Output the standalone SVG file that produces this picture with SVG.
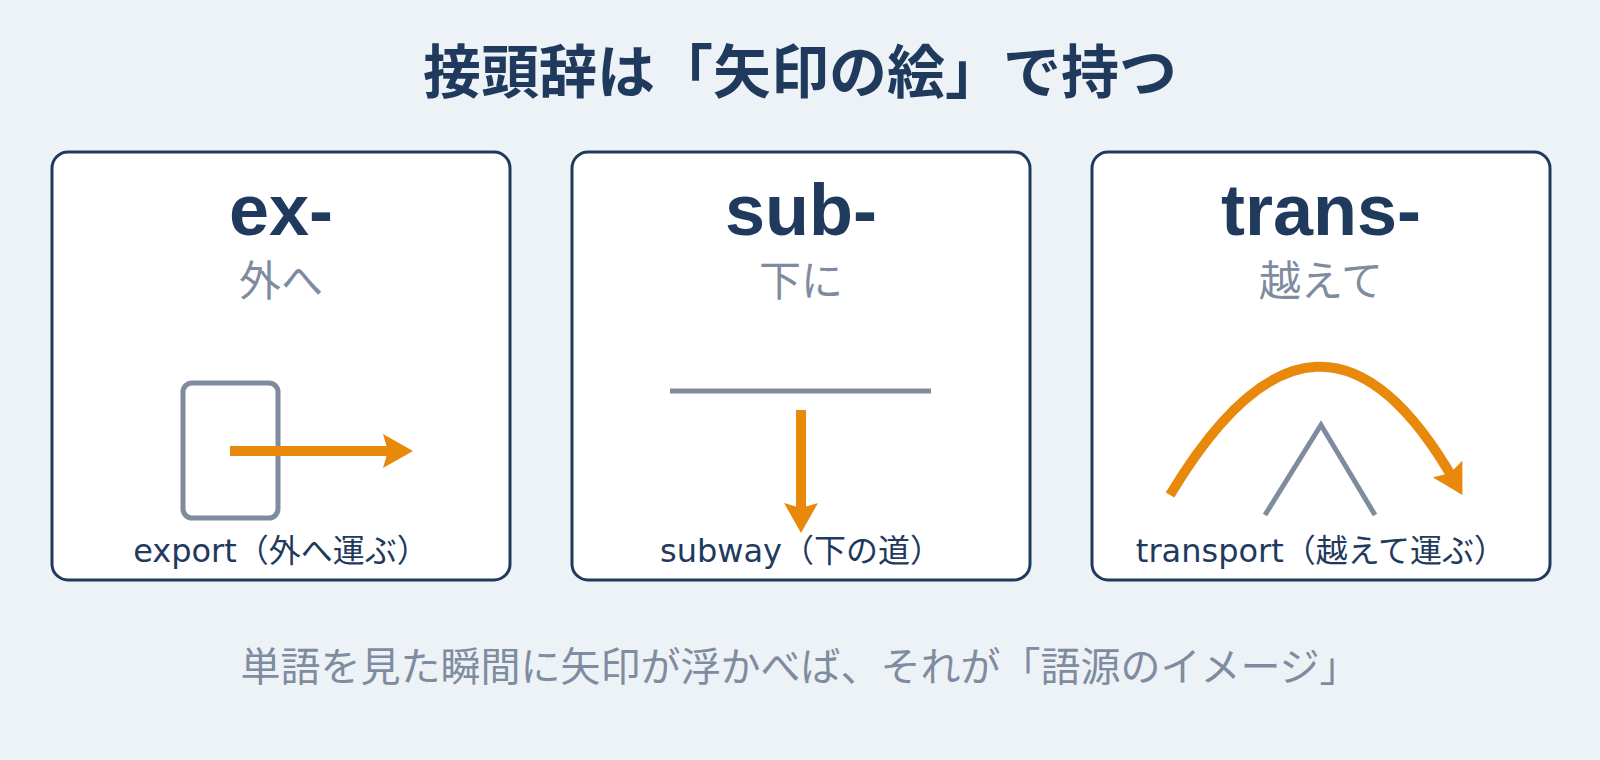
<svg xmlns="http://www.w3.org/2000/svg" width="1600" height="760" viewBox="0 0 1600 760">
<defs>
<style>
text{font-family:"Noto Sans CJK JP","Noto Sans",sans-serif;text-anchor:middle}
.title{font-size:58px;font-weight:700;fill:#1f3a5c}
.card{fill:#ffffff;stroke:#1f3a5c;stroke-width:3}
.pre{font-family:"Liberation Sans","Noto Sans CJK JP",sans-serif;font-size:72px;font-weight:700;fill:#1f3a5c}
.mean{font-size:42px;fill:#7f8c9f}
.ex{font-family:"DejaVu Sans","Noto Sans CJK JP",sans-serif;font-size:32px;fill:#1f3a5c}
.foot{font-size:40px;fill:#7f8c9f}
.gray{fill:none;stroke:#7f8c9f;stroke-width:5}
.arrow{fill:none;stroke:#e8890c;stroke-width:10;marker-end:url(#head)}
</style>
<marker id="head" markerUnits="userSpaceOnUse" viewBox="0 0 30 34" markerWidth="30" markerHeight="34" refX="15" refY="17" orient="auto">
<path d="M0,0 L30,17 L0,34 L5,17 Z" fill="#e8890c"/>
</marker>
</defs>
<rect width="1600" height="760" fill="#edf2f7"/>
<text class="title" x="800" y="93">接頭辞は「矢印の絵」で持つ</text>
<g id="card-ex">
<rect class="card" x="52" y="152" width="458" height="428" rx="16"/>
<text class="pre" x="281" y="235">ex-</text>
<text class="mean" x="281" y="296">外へ</text>
<rect class="gray" x="183" y="383" width="95" height="135" rx="9"/>
<text class="ex" x="281" y="562">export（外へ運ぶ）</text>
</g>
<g id="card-sub">
<rect class="card" x="572" y="152" width="458" height="428" rx="16"/>
<text class="pre" x="801" y="235">sub-</text>
<text class="mean" x="801" y="296">下に</text>
<line class="gray" x1="670" y1="391" x2="931" y2="391" stroke-width="6"/>
<text class="ex" x="801" y="562">subway（下の道）</text>
</g>
<g id="card-trans">
<rect class="card" x="1092" y="152" width="458" height="428" rx="16"/>
<text class="pre" x="1321" y="235">trans-</text>
<text class="mean" x="1321" y="296">越えて</text>
<polyline class="gray" points="1265,515 1321,425 1375,515"/>
<text class="ex" x="1321" y="562">transport（越えて運ぶ）</text>
</g>
<g id="connectors">
<line class="arrow" x1="230" y1="451" x2="398" y2="451"/>
<line class="arrow" x1="801" y1="410" x2="801" y2="518"/>
<path class="arrow" d="M1170,495 Q1320,245 1455,482"/>
</g>
<text class="foot" x="800" y="681">単語を見た瞬間に矢印が浮かべば、それが「語源のイメージ」</text>
</svg>
